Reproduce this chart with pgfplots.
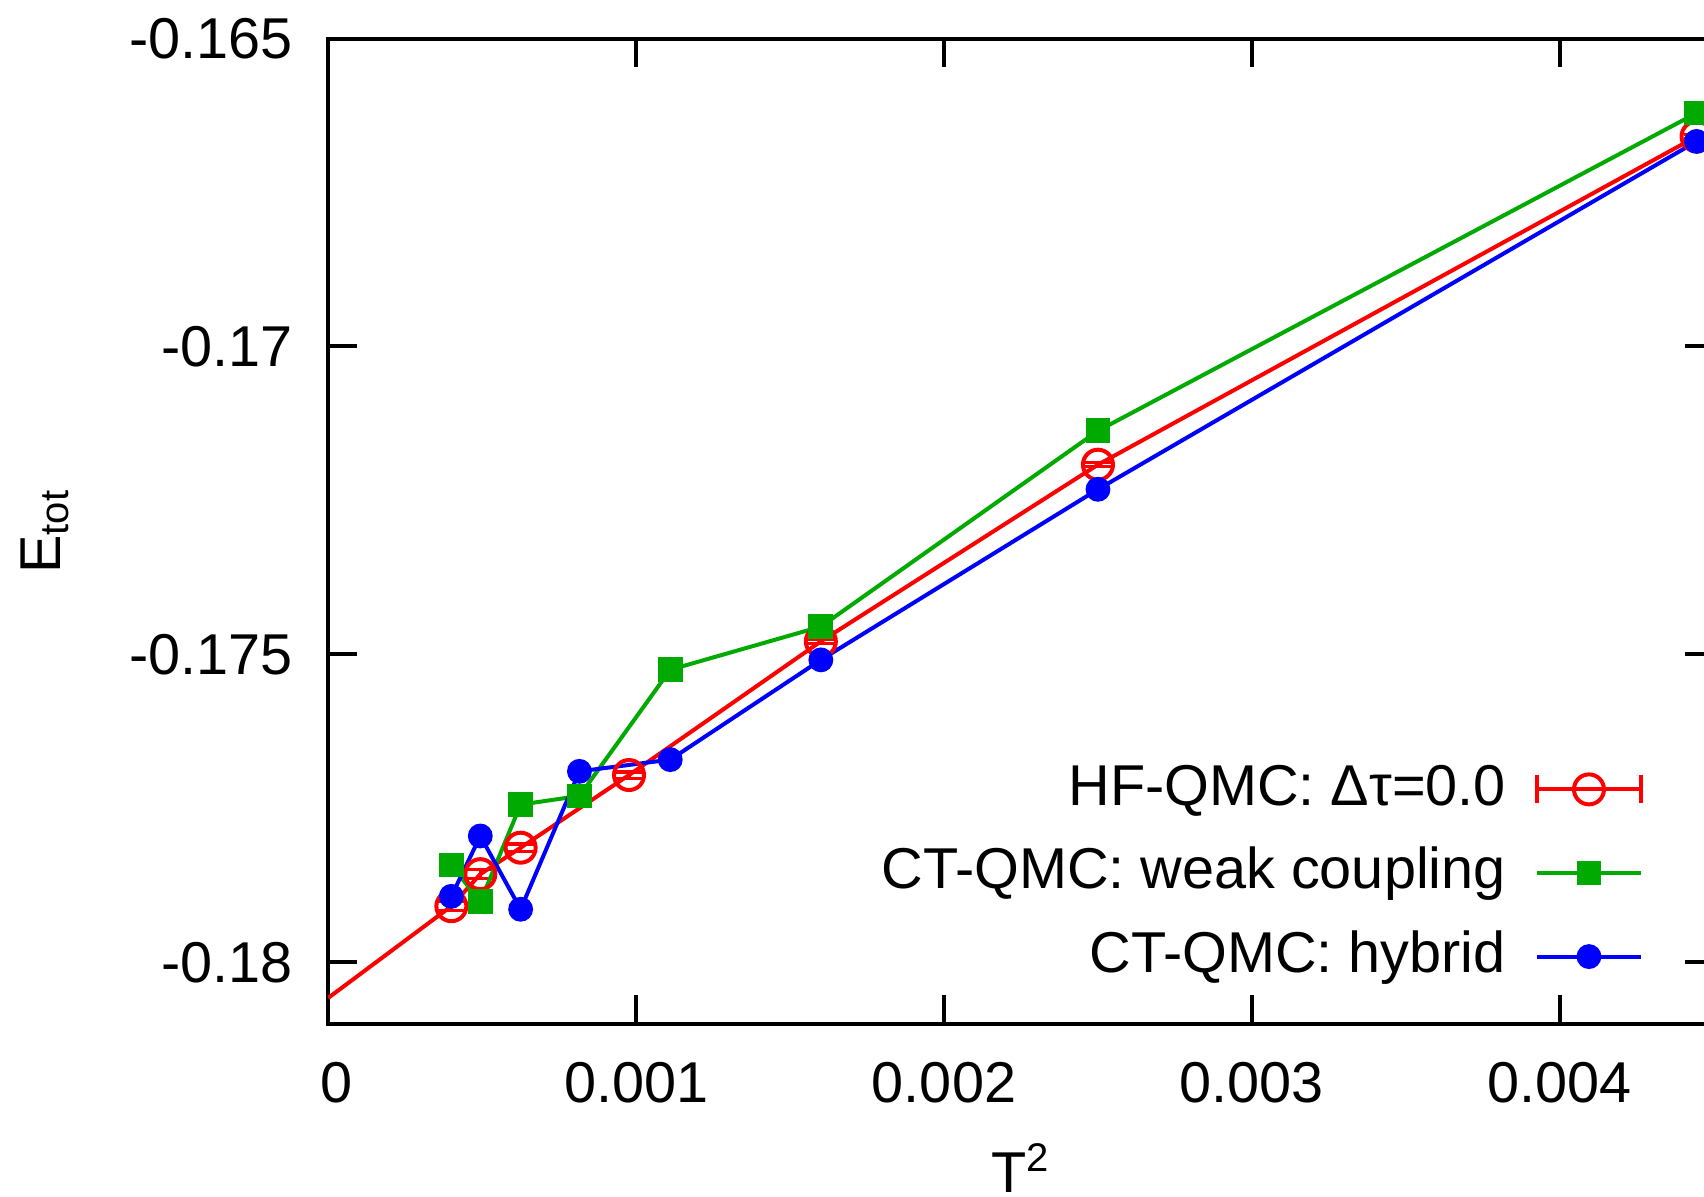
\documentclass[border=0pt]{standalone}
\usepackage{pgfplots}
\pgfplotsset{compat=1.18}
\usepackage{fontspec}
\setmainfont{Liberation Sans}
\definecolor{gpred}{RGB}{255,0,0}
\definecolor{gpgreen}{RGB}{0,170,0}
\definecolor{gpblue}{RGB}{0,0,255}
\begin{document}
\fontsize{14.4pt}{17pt}\selectfont
\begin{tikzpicture}
\begin{axis}[
  scale only axis, width=346.4pt, height=246.3pt,
  xmin=0, xmax=0.0045, ymin=-0.181, ymax=-0.165,
  axis line style={line width=1pt},
  xtick={0,0.001,0.002,0.003,0.004},
  xticklabels={\hspace*{4pt}0,0.001,0.002,0.003,0.004},
  ytick={-0.18,-0.175,-0.17,-0.165},
  yticklabels={-0.18,-0.175,-0.17,-0.165},
  scaled ticks=false,
  tick align=inside, major tick length=7.2pt,
  every tick/.style={black, line width=1pt},
  xticklabel style={anchor=north, inner sep=0pt, yshift=-9.5pt},
  yticklabel style={anchor=east, inner sep=0pt, xshift=-8.75pt},
  xlabel={T\textsuperscript{2}},
  ylabel={E\textsubscript{tot}},
  every axis x label/.style={at={(axis description cs:0.5,-0.1715)}, anchor=base},
  every axis y label/.style={at={(axis description cs:-0.1934,0.5)}, rotate=90, anchor=base},
  legend style={draw=none, fill=none, at={(axis description cs:0.9489,0.0398)}, anchor=south east,
    inner sep=0pt, outer sep=0pt, row sep=6.9pt, column sep=7.3pt,
    nodes={inner sep=0pt, text height=11pt, text depth=3pt}},
  legend cell align=right, legend plot pos=right,
]
\addplot[gpred, line width=1pt, forget plot] coordinates {(0,-0.18058) (0.0004,-0.17909)};
\addplot[gpred, line width=1pt, mark=o, mark size=3.75pt, mark options={line width=1pt, solid},
  legend image code/.code={
    \draw[gpred, line width=1pt] (0pt,0pt) -- (26pt,0pt);
    \draw[gpred, line width=1pt] (0pt,-3.5pt) -- (0pt,3.5pt) (26pt,-3.5pt) -- (26pt,3.5pt);
    \draw[gpred, line width=1pt] (13pt,0pt) circle (3.75pt);
  },
  error bars/.cd, y dir=both, y explicit,
  error mark options={rotate=90, gpred, mark size=3.25pt, line width=0.8pt},
  error bar style={line width=0.8pt}]
coordinates {
(0.0004,-0.17909) +- (0,0.00007)
(0.000494,-0.17857) +- (0,0.00007)
(0.000625,-0.17814) +- (0,0.00006)
(0.000977,-0.17696) +- (0,0.00005)
(0.0016,-0.17479) +- (0,0.00004)
(0.0025,-0.17192) +- (0,0.00003)
(0.004444,-0.16659) +- (0,0.00003)
};
\addlegendentry{HF-QMC: Δτ=0.0}
\addplot[gpgreen, line width=1pt, mark=square*, mark size=2.6pt, mark options={solid},
  legend image code/.code={
    \draw[gpgreen, line width=1pt] (0pt,0pt) -- (26pt,0pt);
    \fill[gpgreen] (13pt,0pt) +(-2.6pt,-2.6pt) rectangle +(2.6pt,2.6pt);
  }]
coordinates {
(0.0004,-0.17842) (0.000494,-0.17902) (0.000625,-0.17744) (0.000816,-0.17730)
(0.001111,-0.17525) (0.0016,-0.17455) (0.0025,-0.17137) (0.004444,-0.16621)
};
\addlegendentry{CT-QMC: weak coupling}
\addplot[gpblue, line width=1pt, mark=*, mark size=2.6pt, mark options={solid},
  legend image code/.code={
    \draw[gpblue, line width=1pt] (0pt,0pt) -- (26pt,0pt);
    \fill[gpblue] (13pt,0pt) circle (2.6pt);
  }]
coordinates {
(0.0004,-0.17893) (0.000494,-0.17795) (0.000625,-0.17914) (0.000816,-0.17690)
(0.001111,-0.17671) (0.0016,-0.17509) (0.0025,-0.17232) (0.004444,-0.16667)
};
\addlegendentry{CT-QMC: hybrid}
\end{axis}
\pgfresetboundingbox
\path[use as bounding box] ([shift={(-82.05pt,-43.3pt)}]current axis.south west) rectangle ++(426pt,299.25pt);
\end{tikzpicture}
\end{document}
